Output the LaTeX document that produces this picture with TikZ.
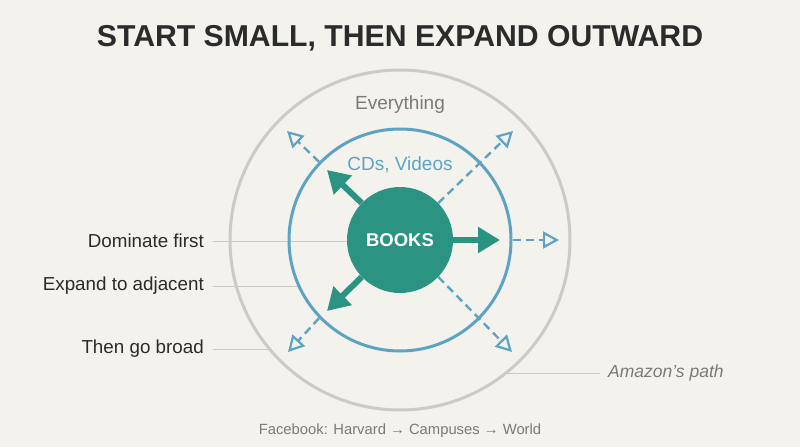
\documentclass[tikz,border=0pt]{standalone}
\usepackage{fontspec}
\setmainfont{Liberation Sans}
\usetikzlibrary{arrows.meta}
\definecolor{bgc}{HTML}{F3F2ED}
\definecolor{teal}{HTML}{2A9382}
\definecolor{blu}{HTML}{5FA3C4}
\definecolor{gcirc}{HTML}{CACAC7}
\definecolor{gline}{HTML}{C9C9C6}
\definecolor{dark}{HTML}{2B2B2B}
\definecolor{gtext}{HTML}{7A7A7A}
\tikzset{
  ring/.style={circle, draw, line width=3pt, inner sep=0pt},
  solidarrow/.style={draw=teal, line width=6pt, -{Triangle[length=22pt,width=25pt]}},
  dasharrow/.style={draw=blu, line width=2.4pt, dash pattern=on 8pt off 5pt, -{Triangle[open,length=16pt,width=17pt,line width=2.2pt]}},
  leader/.style={draw=gline, line width=1pt},
  lbl/.style={anchor=east, text=dark, font=\fontsize{18.8}{21}\selectfont, inner sep=0pt},
}
\begin{document}
\begin{tikzpicture}[x=1pt,y=-1pt]
\fill[bgc] (0,0) rectangle (800,447);
\useasboundingbox (0,0) rectangle (800,447);

\node[font=\bfseries\fontsize{30.2}{32}\selectfont, text=dark] (title) at (400,38) {START SMALL, THEN EXPAND OUTWARD};

% label nodes
\node[lbl] (l1) at (204,241) {Dominate first};
\node[lbl] (l2) at (204,286) {Expand to adjacent};
\node[lbl] (l3) at (204,349) {Then go broad};
\node[anchor=west, inner sep=0pt, text=gtext, font=\itshape\fontsize{17.5}{20}\selectfont] (amz) at (608,373) {Amazon’s path};

% leader end points on the circles
\coordinate (c1) at (347,241);
\coordinate (c2) at (299,286);
\coordinate (c3) at (270,349);
\coordinate (c4) at (506,373);

% leader lines
\draw[leader] ([xshift=9pt]l1.east) -- (c1);
\draw[leader] ([xshift=9pt]l2.east) -- (c2);
\draw[leader] ([xshift=9pt]l3.east) -- (c3);
\draw[leader] (c4) -- ([xshift=-8pt]amz.west);

% circles
\node[ring, draw=gcirc, minimum size=340pt] (outer) at (400,240) {};
\node[ring, draw=blu, minimum size=222pt] (inner) at (400,240) {};

\node[circle, fill=teal, minimum size=106pt, inner sep=0pt, text=white, font=\bfseries\fontsize{18.5}{20}\selectfont] (books) at (400,240) {BOOKS};

\node[text=gtext, font=\fontsize{19}{21}\selectfont] (every) at (400,105) {Everything};
\node[text=blu, font=\fontsize{19}{21}\selectfont] (cds) at (400,165) {CDs, Videos};

% arrow endpoints
\coordinate (tnw) at (327,170);
\coordinate (te) at (500,240);
\coordinate (tsw) at (327,311);
\coordinate (dne) at (513,131);
\coordinate (dnw) at (287,131);
\coordinate (de) at (559,240);
\coordinate (dsw) at (288,352);
\coordinate (dse) at (512,352);

\draw[solidarrow] (books.136) -- (tnw);
\draw[solidarrow] (books.east) -- (te);
\draw[solidarrow] (books.224) -- (tsw);

\draw[dasharrow] (books.44) -- (dne);
\draw[dasharrow] (inner.136) -- (dnw);
\draw[dasharrow] (inner.east) -- (de);
\draw[dasharrow] (inner.224) -- (dsw);
\draw[dasharrow] (books.-44) -- (dse);

\node[text=gtext, font=\fontsize{14.8}{17}\selectfont] (foot) at (400,431) {Facebook: Harvard → Campuses → World};
\end{tikzpicture}
\end{document}
